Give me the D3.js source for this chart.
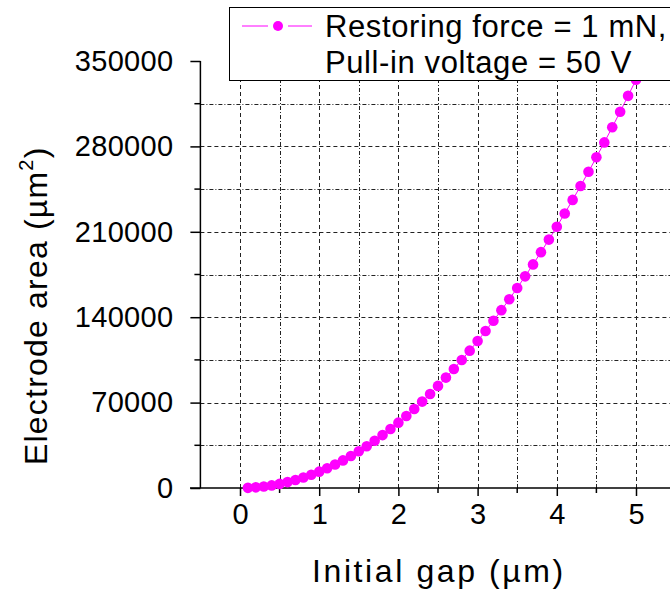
<!DOCTYPE html>
<html>
<head>
<meta charset="utf-8">
<script src="https://cdn.jsdelivr.net/npm/d3@7"></script>
<style>
  html, body { margin: 0; padding: 0; background: #fff; }
  svg { display: block; font-family: Arial, "Liberation Sans", sans-serif; }
</style>
</head>
<body>
<svg id="chart" width="670" height="594"></svg>
<script>
// Initial gap (µm) and required electrode area (µm²)
const gaps = [
  0.1, 0.2, 0.3, 0.4, 0.5, 0.6, 0.7, 0.8, 0.9, 1.0,
  1.1, 1.2, 1.3, 1.4, 1.5, 1.6, 1.7, 1.8, 1.9, 2.0,
  2.1, 2.2, 2.3, 2.4, 2.5, 2.6, 2.7, 2.8, 2.9, 3.0,
  3.1, 3.2, 3.3, 3.4, 3.5, 3.6, 3.7, 3.8, 3.9, 4.0,
  4.1, 4.2, 4.3, 4.4, 4.5, 4.6, 4.7, 4.8, 4.9, 5.0
];
const areas = [
  130, 540, 1200, 2140, 3350, 4820, 6560, 8570, 10840, 13390,
  16200, 19280, 22620, 26240, 30120, 34270, 38690, 43370, 48330, 53550,
  59040, 64790, 70820, 77110, 83670, 90500, 97590, 104950, 112590, 120480,
  128650, 137080, 145780, 154750, 163990, 173500, 183270, 193310, 203620, 214190,
  225040, 236150, 247530, 259170, 271090, 283270, 295720, 308440, 321420, 334680
];
const xMajorTicks = [0, 1, 2, 3, 4, 5];
const xMinorTicks = [0.5, 1.5, 2.5, 3.5, 4.5, 5.5];
const yMajorTicks = [0, 70000, 140000, 210000, 280000, 350000];
const yMinorTicks = [35000, 105000, 175000, 245000, 315000];
const legendLines = ["Restoring force = 1 mN,", "Pull-in voltage = 50 V"];
const seriesColor = "#ff00ff";

const svg = d3.select("#chart");

const x = d3.scaleLinear().domain([-0.5, 5.5]).range([200.4, 675.6]);
const y = d3.scaleLinear().domain([0, 350000]).range([488, 61]);

// grid
const grid = svg.append("g").attr("stroke", "#222").attr("stroke-width", 1).attr("fill", "none");
grid.selectAll(".vmaj").data(xMajorTicks).join("line")
  .attr("x1", d => Math.round(x(d)) + 0.5).attr("x2", d => Math.round(x(d)) + 0.5)
  .attr("y1", y(0)).attr("y2", y(350000))
  .attr("stroke-dasharray", "4,3");
grid.selectAll(".vmin").data(xMinorTicks).join("line")
  .attr("x1", d => Math.round(x(d)) + 0.5).attr("x2", d => Math.round(x(d)) + 0.5)
  .attr("y1", y(0)).attr("y2", y(350000))
  .attr("stroke-dasharray", "4,2,1,2");
grid.selectAll(".hmaj").data(yMajorTicks.filter(d => d > 0 && d < 350000)).join("line")
  .attr("y1", d => Math.round(y(d)) + 0.5).attr("y2", d => Math.round(y(d)) + 0.5)
  .attr("x1", x(-0.5)).attr("x2", 670)
  .attr("stroke-dasharray", "4,3");
grid.selectAll(".hmin").data(yMinorTicks).join("line")
  .attr("y1", d => Math.round(y(d)) + 0.5).attr("y2", d => Math.round(y(d)) + 0.5)
  .attr("x1", x(-0.5)).attr("x2", 670)
  .attr("stroke-dasharray", "4,2,1,2");

// axes
const xAxis = d3.axisBottom(x).tickValues(xMajorTicks).tickSize(8).tickPadding(7)
  .tickFormat(d3.format("d"));
const gx = svg.append("g").attr("transform", `translate(0,${y(0)})`).call(xAxis);
gx.select(".domain").remove();
gx.append("line").attr("x1", 190).attr("x2", 670).attr("y1", 0).attr("y2", 0)
  .attr("stroke", "#000").attr("stroke-width", 1.5);
gx.selectAll(".minor").data(xMinorTicks).join("line")
  .attr("x1", d => x(d)).attr("x2", d => x(d)).attr("y1", 0).attr("y2", 5)
  .attr("stroke", "#000").attr("stroke-width", 1.5);
gx.selectAll(".tick line").attr("stroke-width", 1.5);
gx.selectAll(".tick text").attr("font-size", 29).attr("fill", "#000")
  .attr("font-family", "Arial, 'Liberation Sans', sans-serif");

const yAxis = d3.axisLeft(y).tickValues(yMajorTicks).tickSize(10).tickPadding(17)
  .tickFormat(d3.format("d"));
const gy = svg.append("g").attr("transform", `translate(${x(-0.5)},0)`).call(yAxis);
gy.select(".domain").remove();
gy.append("line").attr("x1", 0).attr("x2", 0).attr("y1", y(350000)).attr("y2", y(0))
  .attr("stroke", "#000").attr("stroke-width", 1.5);
gy.selectAll(".minor").data(yMinorTicks).join("line")
  .attr("x1", -6).attr("x2", 0).attr("y1", d => y(d)).attr("y2", d => y(d))
  .attr("stroke", "#000").attr("stroke-width", 1.5);
gy.selectAll(".tick line").attr("stroke-width", 1.5);
gy.selectAll(".tick text").attr("font-size", 29).attr("fill", "#000")
  .attr("letter-spacing", 0.3)
  .attr("font-family", "Arial, 'Liberation Sans', sans-serif");

// series
const pts = gaps.map((g, i) => ({ g, a: areas[i] }));
svg.append("path").datum(pts)
  .attr("fill", "none").attr("stroke", seriesColor).attr("stroke-width", 1)
  .attr("d", d3.line().x(d => x(d.g)).y(d => y(d.a)));
svg.append("g").selectAll("circle").data(pts).join("circle")
  .attr("cx", d => x(d.g)).attr("cy", d => y(d.a)).attr("r", 5.3)
  .attr("fill", seriesColor);

// axis titles
svg.append("text").attr("x", 312).attr("y", 582).attr("text-anchor", "start")
  .attr("font-size", 32).attr("fill", "#000").attr("letter-spacing", 2.6)
  .text("Initial gap (µm)");

const yt = svg.append("text").attr("transform", "translate(47,465) rotate(-90)")
  .attr("text-anchor", "start").attr("font-size", 32).attr("fill", "#000")
  .attr("letter-spacing", 1.2);
yt.append("tspan").text("Electrode area (µm");
yt.append("tspan").attr("font-size", 20).attr("dy", -14).text("2");
yt.append("tspan").attr("dy", 14).text(")");

// legend
const lg = svg.append("g");
lg.append("rect").attr("x", 229.5).attr("y", 7.5).attr("width", 460).attr("height", 73)
  .attr("fill", "#fff").attr("stroke", "#000").attr("stroke-width", 1);
lg.append("line").attr("x1", 242).attr("x2", 268).attr("y1", 26).attr("y2", 26)
  .attr("stroke", seriesColor).attr("stroke-width", 1);
lg.append("line").attr("x1", 288).attr("x2", 312).attr("y1", 26).attr("y2", 26)
  .attr("stroke", seriesColor).attr("stroke-width", 1);
lg.append("circle").attr("cx", 278).attr("cy", 26).attr("r", 5).attr("fill", seriesColor);
lg.selectAll("text.leg").data(legendLines).join("text")
  .attr("x", 325).attr("y", (d, i) => 37 + i * 36)
  .attr("font-size", 31).attr("fill", "#000").attr("letter-spacing", 0.6)
  .text(d => d);
</script>
</body>
</html>
